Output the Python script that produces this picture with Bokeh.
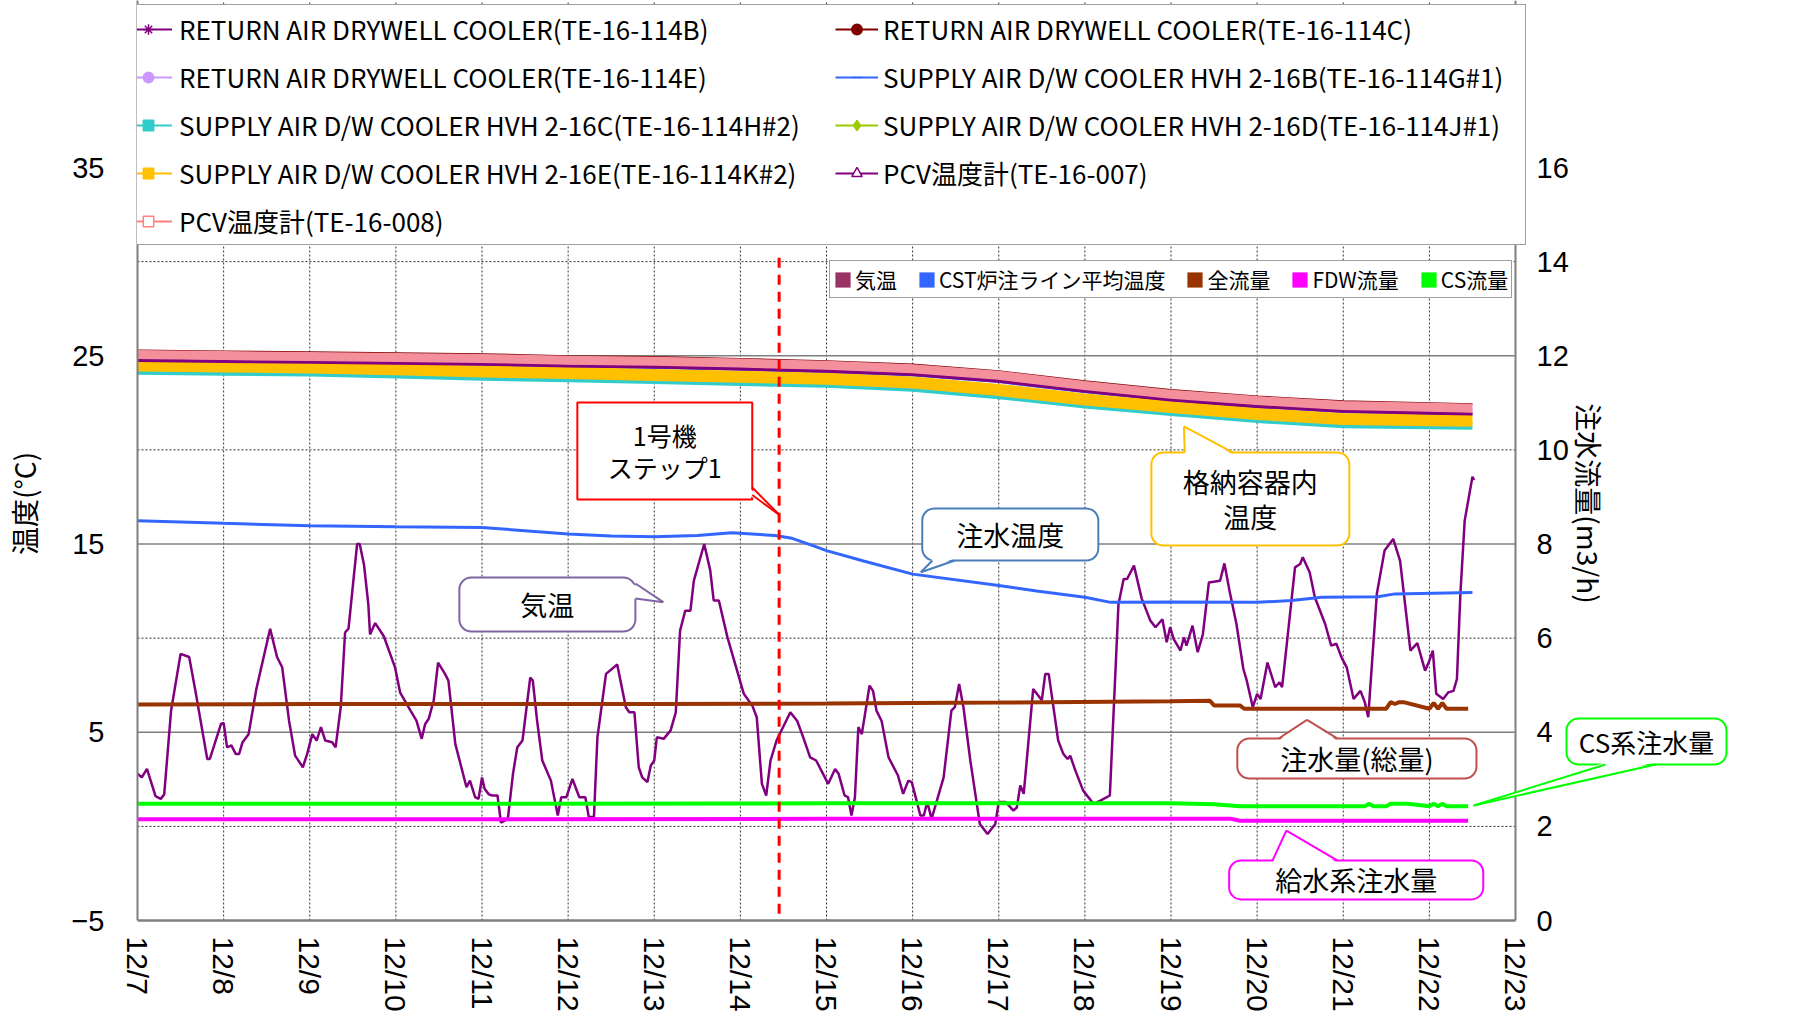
import math
from bokeh.plotting import figure
from bokeh.models import (Range1d, LinearAxis, FixedTicker, Legend, LegendItem,
                          BoxAnnotation, PolyAnnotation, Arrow, Label)
from bokeh.embed import file_html
from bokeh.resources import INLINE

# ---------------- data ----------------
date_labels = ["12/7", "12/8", "12/9", "12/10", "12/11", "12/12", "12/13", "12/14", "12/15",
               "12/16", "12/17", "12/18", "12/19", "12/20", "12/21", "12/22", "12/23"]
day_ticks = list(range(17))
temp_ticks = [-5, 5, 15, 25, 35]
flow_ticks = [0, 2, 4, 6, 8, 10, 12, 14, 16]
grid_solid = [5, 15, 25, 35]
grid_dash = [0, 10, 20, 30]

# PCV / drywell cooler temperatures (days since 12/7 0:00)
band_day = [0, 1, 2, 3, 4, 5, 6, 7, 8, 9, 10, 11, 12, 13, 14, 15, 15.5]
te_114b = [24.80, 24.75, 24.70, 24.65, 24.60, 24.50, 24.45, 24.35, 24.23, 24.05, 23.70, 23.16, 22.70, 22.36, 22.10, 22.00, 21.95]
te_114c = [25.28, 25.23, 25.18, 25.13, 25.08, 24.98, 24.93, 24.83, 24.71, 24.53, 24.18, 23.64, 23.18, 22.84, 22.58, 22.48, 22.43]
te_114e = [25.00, 24.95, 24.90, 24.85, 24.80, 24.70, 24.65, 24.55, 24.43, 24.25, 23.90, 23.36, 22.90, 22.56, 22.30, 22.20, 22.15]
te_114g = [24.70, 24.65, 24.60, 24.55, 24.50, 24.40, 24.35, 24.25, 24.13, 23.95, 23.60, 23.06, 22.60, 22.26, 22.00, 21.90, 21.85]
te_114h = [24.10, 24.05, 24.00, 23.90, 23.78, 23.70, 23.60, 23.50, 23.40, 23.20, 22.80, 22.30, 21.90, 21.53, 21.26, 21.20, 21.17]
te_114j = [24.35, 24.30, 24.25, 24.15, 24.03, 23.95, 23.85, 23.75, 23.65, 23.45, 23.05, 22.55, 22.15, 21.78, 21.51, 21.45, 21.42]
te_114k = [24.48, 24.43, 24.38, 24.28, 24.16, 24.08, 23.98, 23.88, 23.78, 23.58, 23.18, 22.68, 22.28, 21.91, 21.64, 21.58, 21.55]
te_007 = [24.75, 24.70, 24.65, 24.60, 24.55, 24.45, 24.40, 24.30, 24.18, 24.00, 23.65, 23.11, 22.65, 22.31, 22.05, 21.95, 21.90]
te_008 = [25.06, 25.01, 24.96, 24.91, 24.86, 24.76, 24.71, 24.61, 24.49, 24.31, 23.96, 23.42, 22.96, 22.62, 22.36, 22.26, 22.21]

# air temperature
air_day = [0.0, 0.05, 0.11, 0.21, 0.27, 0.31, 0.39, 0.5, 0.6, 0.68, 0.81, 0.84, 0.97, 1.0, 1.04, 1.09, 1.14, 1.18,
           1.22, 1.29, 1.38, 1.54, 1.62, 1.68, 1.76, 1.83, 1.92, 1.97, 2.03, 2.08, 2.13, 2.18, 2.26, 2.3, 2.36,
           2.41, 2.45, 2.55, 2.58, 2.63, 2.68, 2.7, 2.76, 2.86, 2.99, 3.05, 3.17, 3.24, 3.3, 3.34, 3.38, 3.44,
           3.49, 3.57, 3.61, 3.69, 3.82, 3.86, 3.92, 3.96, 4.0, 4.03, 4.08, 4.12, 4.18, 4.22, 4.3, 4.36, 4.41,
           4.47, 4.56, 4.59, 4.64, 4.7, 4.8, 4.88, 4.92, 4.98, 5.05, 5.13, 5.2, 5.24, 5.3, 5.34, 5.44, 5.57,
           5.67, 5.71, 5.77, 5.82, 5.86, 5.92, 5.96, 6.0, 6.03, 6.11, 6.19, 6.25, 6.3, 6.36, 6.42, 6.46, 6.58,
           6.65, 6.69, 6.75, 6.85, 7.04, 7.14, 7.19, 7.25, 7.3, 7.35, 7.42, 7.58, 7.66, 7.73, 7.81, 7.88, 7.96,
           8.02, 8.1, 8.14, 8.21, 8.25, 8.29, 8.33, 8.37, 8.41, 8.5, 8.54, 8.58, 8.64, 8.72, 8.83, 8.89, 8.95,
           8.99, 9.09, 9.13, 9.17, 9.22, 9.36, 9.45, 9.49, 9.54, 9.59, 9.67, 9.78, 9.87, 9.96, 10.0, 10.08,
           10.17, 10.21, 10.25, 10.29, 10.4, 10.5, 10.54, 10.58, 10.69, 10.75, 10.8, 10.83, 10.89, 10.98, 11.1,
           11.18, 11.29, 11.39, 11.45, 11.49, 11.57, 11.66, 11.76, 11.82, 11.9, 11.95, 11.99, 12.03, 12.11,
           12.15, 12.18, 12.25, 12.31, 12.37, 12.44, 12.57, 12.62, 12.68, 12.76, 12.84, 12.88, 12.95, 13.0,
           13.04, 13.12, 13.21, 13.26, 13.29, 13.34, 13.44, 13.5, 13.53, 13.61, 13.67, 13.79, 13.86, 13.92,
           13.98, 14.04, 14.12, 14.2, 14.25, 14.29, 14.39, 14.48, 14.58, 14.66, 14.78, 14.86, 14.95, 15.0,
           15.04, 15.08, 15.16, 15.22, 15.28, 15.32, 15.36, 15.41, 15.5, 15.52]
air_temp = [2.8, 2.6, 3.05, 1.6, 1.46, 1.7, 6.15, 9.16, 9.0, 7.0, 3.58, 3.58, 5.44, 5.5, 4.2, 4.3, 3.85, 3.85,
            4.47, 4.9, 7.3, 10.5, 9.0, 8.45, 5.6, 3.76, 3.14, 3.85, 4.9, 4.56, 5.27, 4.56, 4.47, 4.2, 6.33,
            10.3, 10.5, 15.0, 15.0, 13.9, 11.8, 10.2, 10.8, 10.1, 8.45, 7.1, 6.15, 5.6, 4.65, 5.44, 5.7, 6.7,
            8.7, 8.1, 7.74, 4.38, 2.08, 2.43, 1.55, 1.46, 2.6, 2.0, 1.7, 1.64, 1.64, 0.2, 0.4, 2.8, 4.2,
            4.56, 7.9, 7.74, 5.6, 3.5, 2.43, 0.58, 1.55, 1.55, 2.52, 1.55, 1.55, 0.5, 0.5, 4.73, 8.1, 8.6,
            6.33, 6.06, 6.06, 3.14, 2.6, 2.35, 3.23, 3.5, 4.73, 4.65, 5.1, 6.06, 10.4, 11.46, 11.46, 13.05, 15.0,
            13.6, 12.0, 12.0, 10.04, 7.04, 6.4, 5.8, 2.26, 1.64, 3.5, 4.56, 6.06, 5.6, 4.73, 3.67, 3.5, 2.79,
            2.26, 3.05, 2.8, 1.64, 1.55, 0.58, 1.55, 5.27, 4.9, 7.48, 7.2, 6.15, 5.6, 3.67, 2.7, 1.73, 2.43,
            2.35, 0.58, 0.58, 1.3, 0.4, 2.6, 6.15, 6.33, 7.57, 6.33, 3.5, 0.13, -0.4, 0.13, 1.3, 1.3,
            0.84, 1.0, 2.17, 1.73, 7.3, 6.7, 8.1, 8.1, 4.56, 3.85, 3.58, 3.75, 2.96, 1.9, 1.2,
            1.37, 1.64, 11.8, 13.14, 13.14, 13.85, 12.1, 10.93, 10.58, 11.0, 9.78, 10.58, 9.96, 9.34,
            10.04, 9.6, 10.66, 9.25, 10.2, 12.96, 13.05, 13.97, 12.5, 10.75, 8.36, 7.74, 6.33, 7.04,
            6.77, 8.7, 7.4, 7.65, 7.4, 9.5, 13.76, 13.94, 14.3, 13.5, 12.17, 10.75, 9.6, 9.7,
            8.98, 8.45, 6.77, 7.2, 6.6, 5.8, 12.35, 14.65, 15.27, 14.1, 9.34, 9.73, 8.27, 8.8,
            9.34, 7.04, 6.77, 7.12, 7.2, 7.83, 12.35, 16.24, 18.57, 18.4]

# CST injection line average temperature
cst_day = [0, 1, 2, 3, 4, 5, 5.5, 6, 6.5, 6.9, 7.4, 7.6, 7.85, 8.0, 8.43, 9, 10, 10.44, 11, 11.3, 12,
           13, 13.4, 13.75, 14.4, 14.6, 15.5]
cst_temp = [16.24, 16.1, 15.97, 15.92, 15.88, 15.53, 15.42, 15.39, 15.45, 15.6, 15.45, 15.3, 14.9, 14.65,
            14.1, 13.4, 12.8, 12.5, 12.17, 11.9, 11.92, 11.9, 12.0, 12.17, 12.2, 12.35, 12.43]

# flows (m3/h)
total_day = [0, 2, 4, 6, 8, 10, 12, 12.45, 12.5, 12.8, 12.85, 14.5, 14.55, 14.6, 14.65, 14.7, 15.0,
             15.05, 15.1, 15.15, 15.2, 15.45]
total_flow = [4.59, 4.6, 4.6, 4.6, 4.61, 4.63, 4.66, 4.67, 4.57, 4.57, 4.5, 4.5, 4.64, 4.6, 4.64, 4.64,
              4.5, 4.62, 4.5, 4.62, 4.5, 4.5]
cs_day = [0, 4, 8, 12, 12.5, 12.8, 14.25, 14.3, 14.35, 14.5, 14.55, 14.65, 14.75, 15.0, 15.05, 15.1,
          15.15, 15.2, 15.45]
cs_flow = [2.48, 2.48, 2.49, 2.49, 2.47, 2.43, 2.43, 2.48, 2.43, 2.43, 2.48, 2.48, 2.48, 2.43, 2.48,
           2.43, 2.48, 2.43, 2.43]
fdw_day = [0, 4, 8, 12, 12.7, 12.8, 15.45]
fdw_flow = [2.15, 2.15, 2.16, 2.16, 2.16, 2.12, 2.12]

step1_day = 7.45

FONT_JP = "Noto Sans CJK JP"
FONT_NUM = "Liberation Sans"
NAN = float("nan")

# ---------------- figure ----------------
# frame: x 137 .. 1731 px (16 days = 1378 px), y 0 .. 936 px (-5 degC at 920 px, 35 degC at 167 px)
PX_DAY, PX_DEG = 86.125, 18.825
X_END = (1731 - 137) / PX_DAY
Y_BOTTOM = -5 - 16 / PX_DEG
Y_TOP = 35 + 167 / PX_DEG
T_MIN = temp_ticks[0]
p = figure(width=1793, height=1017, title=None,
           x_range=Range1d(0, X_END), y_range=Range1d(Y_BOTTOM, Y_TOP),
           output_backend="svg", toolbar_location=None,
           min_border_left=137, min_border_right=62, min_border_top=0, min_border_bottom=81)
p.outline_line_color = None
p.background_fill_color = "white"
p.border_fill_color = "white"
p.extra_y_ranges = {"flow": Range1d((Y_BOTTOM + 5) / 2.5, (Y_TOP + 5) / 2.5)}

laxis = p.yaxis[0]
xaxis = p.xaxis[0]
xaxis.ticker = FixedTicker(ticks=day_ticks)
xaxis.major_label_overrides = {t: s for t, s in zip(day_ticks, date_labels)}
xaxis.major_label_orientation = -math.pi / 2
xaxis.axis_line_color = None
laxis.ticker = FixedTicker(ticks=temp_ticks)
laxis.bounds = (T_MIN, Y_TOP)
raxis = LinearAxis(y_range_name="flow", ticker=FixedTicker(ticks=flow_ticks),
                   fixed_location=day_ticks[-1], bounds=(flow_ticks[0], (Y_TOP + 5) / 2.5))
p.add_layout(raxis, "right")
for ax in (xaxis, laxis, raxis):
    if ax is not xaxis:
        ax.axis_line_color = "#7f7f7f"
        ax.axis_line_width = 2
    ax.major_tick_line_color = None
    ax.minor_tick_line_color = None
    ax.major_tick_out = 0
    ax.major_tick_in = 0
    ax.major_label_text_font = FONT_NUM
    ax.major_label_text_color = "black"
xaxis.major_label_text_font_size = "30px"
xaxis.major_label_standoff = 0
laxis.major_label_text_font_size = "29px"
laxis.major_label_standoff = 33
laxis.axis_label = "温度(°C)" + "\u3000\u3000\u2002"
laxis.axis_label_standoff = 24
laxis.axis_label_text_font = FONT_JP
laxis.axis_label_text_font_style = "normal"
laxis.axis_label_text_font_size = "28px"
laxis.axis_label_text_color = "black"
raxis.major_label_text_font_size = "29px"
raxis.major_label_standoff = 21

# grids (drawn only over the 12/7 - 12/23 plotting area)
p.xgrid.visible = False
p.ygrid.visible = False
x_first, x_last = day_ticks[0], day_ticks[-1]
inner_days = day_ticks[1:-1]
p.segment(x0=inner_days, y0=[T_MIN] * len(inner_days), x1=inner_days, y1=[Y_TOP] * len(inner_days),
          line_color="#333333", line_width=1, line_dash="2 2")
p.segment(x0=[x_first] * len(grid_solid), y0=grid_solid, x1=[x_last] * len(grid_solid), y1=grid_solid,
          line_color="#7f7f7f", line_width=1.5)
p.segment(x0=[x_first] * len(grid_dash), y0=grid_dash, x1=[x_last] * len(grid_dash), y1=grid_dash,
          line_color="#333333", line_width=1, line_dash="2 2")
# bottom border of the plotting area
p.segment(x0=[x_first], y0=[T_MIN], x1=[x_last], y1=[T_MIN], line_color="#7f7f7f", line_width=2.5)

# ---------------- series ----------------
band = [
    (te_114b, "#800080", 2),
    (te_114c, "#800000", 2),
    (te_114e, "#CC99FF", 3),
    (te_114g, "#3366FF", 2),
    (te_114h, "#33CCCC", 4),
    (te_114j, "#99CC00", 3),
    (te_114k, "#FFC000", 12),
    (te_007, "#800080", 3),
    (te_008, "#F4909C", 9),
]
for vals, col, w in band:
    p.line(band_day, vals, line_color=col, line_width=w)

p.line(air_day, air_temp, line_color="#800080", line_width=2.5)
p.line(cst_day, cst_temp, line_color="#3366FF", line_width=3)
p.line(total_day, total_flow, line_color="#993300", line_width=4, y_range_name="flow")
p.line(cs_day, cs_flow, line_color="#00FF00", line_width=4, y_range_name="flow")
p.line(fdw_day, fdw_flow, line_color="#FF00FF", line_width=4, y_range_name="flow")

p.segment(x0=[step1_day], y0=[30.2], x1=[step1_day], y1=[-4.7],
          line_color="#FF0000", line_width=3, line_dash="10 7")

# ---------------- top legend ----------------
specs = [
    ("RETURN AIR DRYWELL COOLER(TE-16-114B)", "#800080", "asterisk", "#800080", 12),
    ("RETURN AIR DRYWELL COOLER(TE-16-114C)", "#800000", "circle", "#800000", 9),
    ("RETURN AIR DRYWELL COOLER(TE-16-114E)", "#CC99FF", "circle", "#CC99FF", 10),
    ("SUPPLY AIR D/W COOLER HVH 2-16B(TE-16-114G#1)", "#3366FF", "dash", "#3366FF", 8),
    ("SUPPLY AIR D/W COOLER HVH 2-16C(TE-16-114H#2)", "#33CCCC", "square", "#33CCCC", 9),
    ("SUPPLY AIR D/W COOLER HVH 2-16D(TE-16-114J#1)", "#99CC00", "diamond", "#99CC00", 11),
    ("SUPPLY AIR D/W COOLER HVH 2-16E(TE-16-114K#2)", "#FFC000", "square", "#FFC000", 9),
    ("PCV温度計(TE-16-007)", "#800080", "triangle", "white", 10),
    ("PCV温度計(TE-16-008)", "#FF8080", "square", "white", 10),
]
items = []
for label, col, mk, fill, sz in specs:
    lr = p.line(x=[NAN], y=[NAN], line_color=col, line_width=2)
    mr = p.scatter(x=[NAN], y=[NAN], marker=mk, size=sz, line_color=col, fill_color=fill, line_width=1.5)
    items.append(LegendItem(label=label, renderers=[lr, mr]))

common = dict(orientation="vertical", padding=5, spacing=11, label_height=30, glyph_height=26,
              label_text_font=FONT_JP, label_text_font_size="26px", label_text_color="black", margin=0)
leg_left = Legend(items=items[0::2], location=(-19, 691), glyph_width=48, label_standoff=7,
                  label_width=1341, border_line_color="#404040", border_line_width=1,
                  background_fill_color="white", background_fill_alpha=1.0, **common)
leg_right = Legend(items=items[1::2], location=(698, 745), glyph_width=43, label_standoff=5,
                   border_line_color=None, background_fill_alpha=0.0, **common)
p.add_layout(leg_left)
p.add_layout(leg_right)

# ---------------- inner legend ----------------
inner = [("気温", "#993366"), ("CST炉注ライン平均温度", "#3366FF"), ("全流量", "#993300"),
         ("FDW流量", "#FF00FF"), ("CS流量", "#00FF00")]
inner_items = []
for label, col in inner:
    q = p.quad(left=[NAN], right=[NAN], top=[NAN], bottom=[NAN], fill_color=col, line_color=None)
    inner_items.append(LegendItem(label=label, renderers=[q]))
leg_inner = Legend(items=inner_items, location=(692, 638), orientation="horizontal", padding=3,
                   spacing=20, glyph_width=19, glyph_height=19, label_standoff=3, label_height=22,
                   label_text_font=FONT_JP, label_text_font_size="21px", label_text_color="black",
                   border_line_color="#404040", border_line_width=1,
                   background_fill_color="white", background_fill_alpha=1.0, margin=0)
p.add_layout(leg_inner)

# ---------------- callouts ----------------
def callout(left, right, top, bottom, color, text, size, base=None, tip=None, inset=(0, 0), radius=12):
    p.add_layout(BoxAnnotation(left=left, right=right, top=top, bottom=bottom,
                               fill_color="white", fill_alpha=1.0, line_color=color, line_alpha=1.0,
                               line_width=2, border_radius=radius))
    if tip is not None:
        (bx0, by0), (bx1, by1) = base
        p.add_layout(PolyAnnotation(xs=[bx0 + inset[0], tip[0], bx1 + inset[0]],
                                    ys=[by0 + inset[1], tip[1], by1 + inset[1]],
                                    fill_color="white", fill_alpha=1.0, line_color=None))
        for bx, by in base:
            p.add_layout(Arrow(end=None, x_start=bx, y_start=by, x_end=tip[0], y_end=tip[1],
                               line_color=color, line_width=2))
    p.add_layout(Label(x=(left + right) / 2, y=(top + bottom) / 2, text=text,
                       text_align="center", text_baseline="middle", text_font=FONT_JP,
                       text_font_size=f"{size}px", text_color="black", text_line_height=0.9))

callout(5.107, 7.138, 22.52, 17.36, "#FF0000", "1号機\nステップ1", 25,
        base=[(7.138, 18.0), (7.138, 17.6)], tip=(7.452, 16.55), inset=(-0.04, 0), radius=0)
callout(9.112, 11.156, 16.89, 14.12, "#4A7EBB", "注水温度", 27,
        base=[(9.23, 14.12), (9.49, 14.12)], tip=(9.095, 13.5), inset=(0, 0.12))
callout(3.737, 5.781, 13.22, 10.35, "#8064A2", "気温", 27,
        base=[(5.781, 12.9), (5.781, 12.1)], tip=(6.105, 11.91), inset=(-0.04, 0))
callout(11.772, 14.071, 19.86, 14.92, "#FFC000", "格納容器内\n温度", 27,
        base=[(12.16, 19.86), (12.72, 19.86)], tip=(12.15, 21.25), inset=(0, -0.12))
callout(12.77, 15.547, 4.67, 2.54, "#C0504D", "注水量(総量)", 27,
        base=[(13.25, 4.67), (13.93, 4.67)], tip=(13.579, 5.66), inset=(0, -0.12))
callout(12.675, 15.626, -1.81, -3.88, "#FF00FF", "給水系注水量", 27,
        base=[(13.18, -1.81), (13.93, -1.81)], tip=(13.34, -0.22), inset=(0, -0.12))
callout(16.592, 18.45, 5.73, 3.29, "#00FF00", "CS系注水量", 26,
        base=[(17.045, 3.29), (17.626, 3.29)], tip=(15.514, 1.11), inset=(0, 0.12))

# right axis title (fixed-location axes do not draw axis labels)
p.add_layout(Label(x=16.848, y=17.15, text="注水流量(m3/h)", angle=-math.pi / 2, text_align="center",
                   text_baseline="middle", text_font=FONT_JP, text_font_size="28px", text_color="black"))

open("out.html", "w").write(file_html(p, INLINE))
